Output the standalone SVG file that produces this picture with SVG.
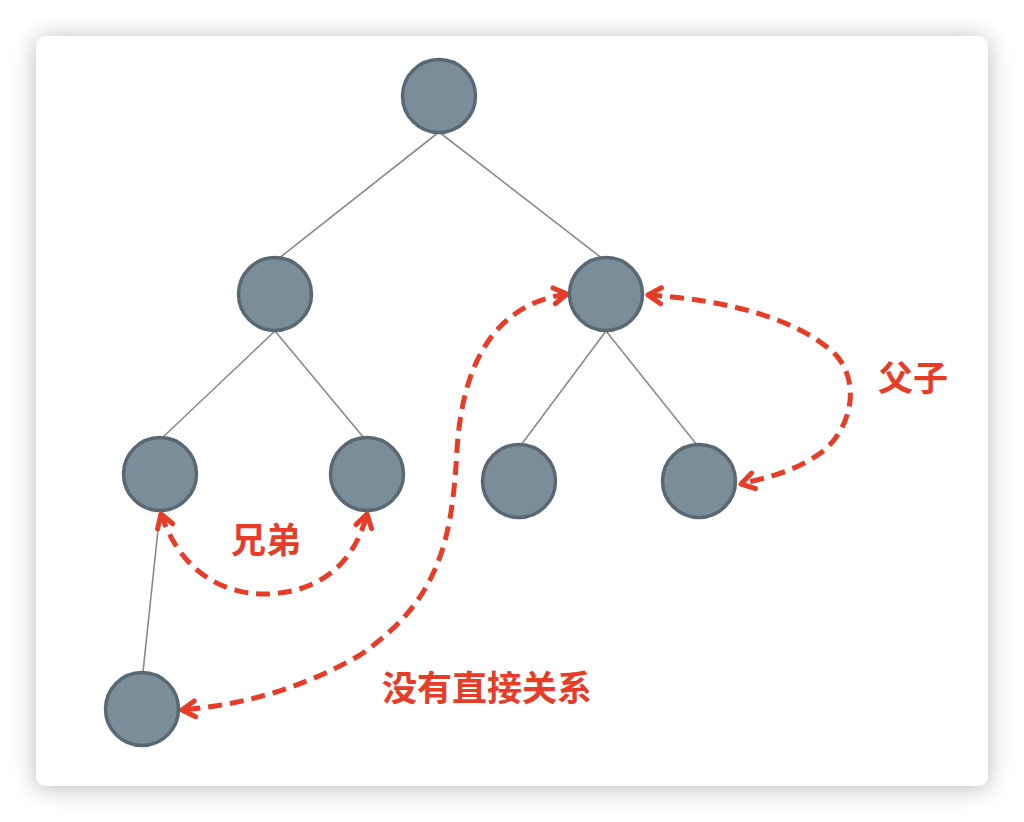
<svg xmlns="http://www.w3.org/2000/svg" width="1024" height="822" viewBox="0 0 1024 822">
<defs>
<filter id="sh" x="-10%" y="-10%" width="120%" height="120%">
<feDropShadow dx="0" dy="2" stdDeviation="12" flood-color="#000" flood-opacity="0.28"/>
</filter>
<marker id="ah" viewBox="0 0 24 24" refX="20" refY="12" markerWidth="24" markerHeight="24" markerUnits="userSpaceOnUse" orient="auto-start-reverse">
<path d="M7,4 L20,12 L7,20" fill="none" stroke="#e63c28" stroke-width="5" stroke-linecap="round" stroke-linejoin="round"/>
</marker>
<style>
.node{fill:#7b8d98;stroke:#596973;stroke-width:3.5}
.edge{stroke:#8a8a8a;stroke-width:1.6;fill:none}
.rel{stroke:#e63c28;stroke-width:5;fill:none;stroke-dasharray:14 8;marker-start:url(#ah);marker-end:url(#ah)}
.lbl{font-family:"Noto Sans CJK SC",sans-serif;font-weight:bold;font-size:35px;fill:#e63c28;text-anchor:middle}
</style>
</defs>
<rect width="1024" height="822" fill="#ffffff"/>
<rect x="36" y="36" width="952" height="750" rx="10" fill="#ffffff" filter="url(#sh)"/>
<g id="connectors">
<line class="edge" x1="439" y1="132" x2="278" y2="259"/>
<line class="edge" x1="439" y1="132" x2="603" y2="259"/>
<line class="edge" x1="275" y1="331" x2="162" y2="438"/>
<line class="edge" x1="275" y1="331" x2="364" y2="438"/>
<line class="edge" x1="606" y1="331" x2="521" y2="445"/>
<line class="edge" x1="606" y1="331" x2="697" y2="445"/>
<line class="edge" x1="160" y1="511" x2="143" y2="672"/>
<path class="rel" d="M161,514 C185,585 240,595 268,594 C300,593 350,580 367,514"/>
<path class="rel" d="M648,295 C730,300 800,320 836,355 C862,385 850,430 822,452 C795,472 765,478 741,484"/>
<path class="rel" d="M567,294 C490,305 462,370 457,450 C452,540 440,600 360,655 C300,690 240,705 182,710"/>
</g>
<g id="n-root"><circle class="node" cx="439" cy="96" r="36.5"/></g>
<g id="n-l"><circle class="node" cx="275" cy="294" r="36.5"/></g>
<g id="n-r"><circle class="node" cx="606" cy="294" r="36.5"/></g>
<g id="n-ll"><circle class="node" cx="160" cy="474" r="36.5"/></g>
<g id="n-lr"><circle class="node" cx="367" cy="474" r="36.5"/></g>
<g id="n-rl"><circle class="node" cx="519" cy="481" r="36.5"/></g>
<g id="n-rr"><circle class="node" cx="699" cy="481" r="36.5"/></g>
<g id="n-bottom"><circle class="node" cx="142" cy="709" r="36.5"/></g>
<g id="labels">
<text class="lbl" x="913" y="391">父子</text>
<text class="lbl" x="266" y="553">兄弟</text>
<text class="lbl" x="487" y="701">没有直接关系</text>
</g>
</svg>
